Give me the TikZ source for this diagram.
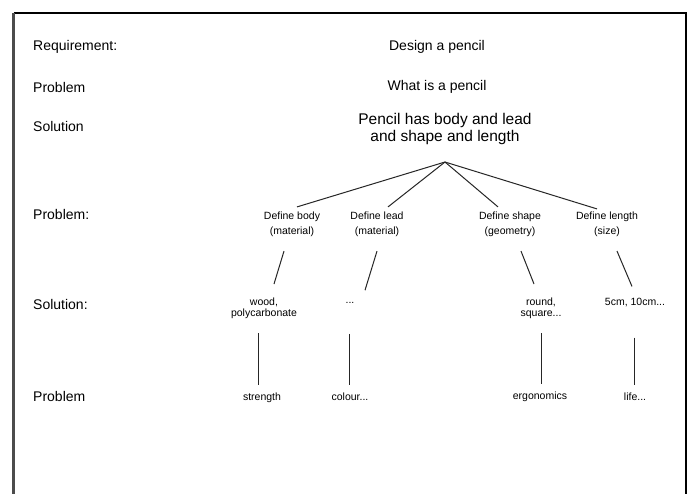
\documentclass[tikz,border=0pt]{standalone}
\usepackage{fontspec}
\setmainfont{Liberation Sans}
\usetikzlibrary{calc}
\begin{document}
\begin{tikzpicture}[x=1pt,y=-1pt,
  rowlabel/.style={anchor=west,inner sep=0pt,font=\fontsize{14}{16}\selectfont},
  bigtext/.style={inner sep=0pt,font=\fontsize{14}{16}\selectfont},
  pencil/.style={inner sep=0pt,align=center,font=\fontsize{15.5}{16.5}\selectfont},
  small/.style={inner sep=0pt,align=center,font=\fontsize{10.5}{15}\selectfont},
  smalltight/.style={inner sep=0pt,align=center,font=\fontsize{10.5}{11.5}\selectfont},
  link/.style={line width=1pt,draw=black!85}]
\useasboundingbox (0,0) rectangle (691,493);
\clip (0,0) rectangle (691,493);
\fill[white] (0,0) rectangle (691,493);
% frame
\draw[line width=1.3pt] (13.5,13) -- (686,13) -- (686,500);
\draw[line width=2.2pt,black!70] (13.5,12.5) -- (13.5,500);
% row labels
\node[rowlabel] (lreq) at (33,47) {Requirement:};
\node[rowlabel] (lp1) at (33,87) {Problem};
\node[rowlabel] (ls1) at (33,126) {Solution};
\node[rowlabel] (lp2) at (33,214) {Problem:};
\node[rowlabel] (ls2) at (33,304) {Solution:};
\node[rowlabel] (lp3) at (33,396) {Problem};
% top texts
\node[bigtext] (req) at (437,47) {Design a pencil};
\node[bigtext] (what) at (437,87) {What is a pencil};
\node[pencil] (sol) at (445,129) {Pencil has body and lead\\and shape and length};
\coordinate (apex) at (445,162);
% define row
\node[small] (body) at (292,224.5) {Define body\\(material)};
\node[small] (lead) at (377,224.5) {Define lead\\(material)};
\node[small] (shape) at (510,224.5) {Define shape\\(geometry)};
\node[small] (length) at (607,224.5) {Define length\\(size)};
\draw[link] (apex) -- ($(body.north)+(5,-5)$);
\draw[link] (apex) -- ($(lead.north)+(11,-5)$);
\draw[link] (apex) -- ($(shape.north)+(-12,-5)$);
\draw[link] (apex) -- ($(length.north)+(-10,-3)$);
% solution row
\node[smalltight] (wood) at (264,308.5) {wood,\\polycarbonate};
\node[small] (dots) at (350,303) {...};
\node[smalltight] (round) at (541,308.5) {round,\\square...};
\node[small] (cm) at (635,303) {5cm, 10cm...};
\coordinate (wtop) at (274,284);
\coordinate (rtop) at (534,284);
\draw[link] ($(body.south)+(-8,14)$) -- (wtop);
\draw[link] ($(lead.south)+(0,14)$) -- ($(dots.north)+(15,-12)$);
\draw[link] ($(shape.south)+(11,14)$) -- (rtop);
\draw[link] ($(length.south)+(10,14)$) -- ($(cm.north)+(-3,-12)$);
% problem row
\node[small] (str) at (262,398) {strength};
\node[small] (col) at (350,397) {colour...};
\node[small] (erg) at (540,397) {ergonomics};
\node[small] (life) at (635,397) {life...};
\draw[link] ($(wood.south)+(-6,14)$) -- ($(str.north)+(-4,-8)$);
\draw[link] ($(dots.south)+(-1,30)$) -- ($(col.north)+(-1,-8)$);
\draw[link] ($(round.south)+(0,14)$) -- ($(erg.north)+(1,-8)$);
\draw[link] ($(cm.south)+(-1,30)$) -- ($(life.north)+(-1,-8)$);
\end{tikzpicture}
\end{document}
